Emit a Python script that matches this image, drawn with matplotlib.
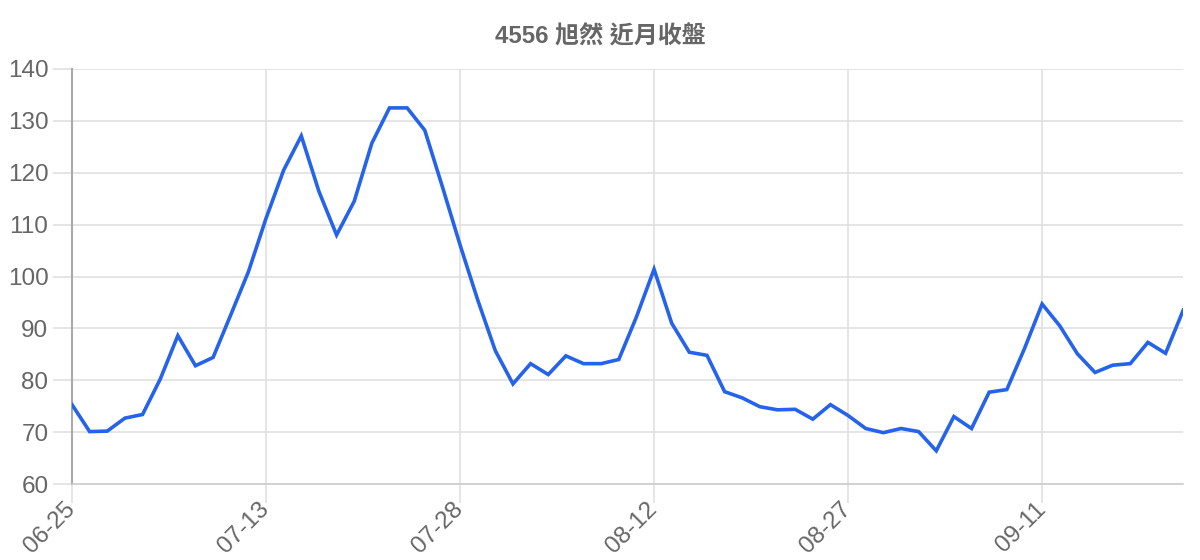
import matplotlib
matplotlib.use("Agg")
import matplotlib.pyplot as plt

plt.rcParams['font.family'] = ['Liberation Sans', 'Noto Sans CJK TC', 'DejaVu Sans']

title = "4556 旭然 近月收盤"

dates = [
    "06-25", "06-26", "06-29", "06-30", "07-01", "07-02", "07-03", "07-06", "07-07", "07-08", "07-10",
    "07-13", "07-14", "07-15", "07-16", "07-17", "07-20", "07-21", "07-22", "07-23", "07-24", "07-27",
    "07-28", "07-29", "07-30", "07-31", "08-03", "08-04", "08-05", "08-06", "08-07", "08-10", "08-11",
    "08-12", "08-13", "08-14", "08-17", "08-18", "08-19", "08-20", "08-21", "08-24", "08-25", "08-26",
    "08-27", "08-28", "08-31", "09-01", "09-02", "09-03", "09-04", "09-07", "09-08", "09-09", "09-10",
    "09-11", "09-14", "09-15", "09-16", "09-17", "09-18", "09-21", "09-22", "09-23",
]

close = [
    75.3, 70.1, 70.2, 72.7, 73.4, 80.2, 88.6, 82.8, 84.4, 92.6, 100.9,
    111.2, 120.5, 127.1, 116.4, 108.0, 114.5, 125.7, 132.5, 132.5, 128.2, 117.3,
    106.1, 95.5, 85.7, 79.3, 83.2, 81.1, 84.7, 83.2, 83.2, 84.0, 92.2,
    101.4, 91.0, 85.4, 84.8, 77.8, 76.6, 74.9, 74.3, 74.4, 72.5, 75.3,
    73.2, 70.7, 69.9, 70.7, 70.1, 66.4, 73.0, 70.7, 77.7, 78.2, 86.1,
    94.7, 90.5, 85.1, 81.5, 82.9, 83.2, 87.3, 85.2, 93.5,
]

y_ticks = [60, 70, 80, 90, 100, 110, 120, 130, 140]
tick_step = 11

fig = plt.figure(figsize=(12, 5.6), dpi=100)
ax = fig.add_axes([0.06, 0.1357, 0.926, 0.7411])

x = list(range(len(close)))
ax.plot(x, close, color='#2563eb', linewidth=2.6, solid_joinstyle='miter', zorder=3)

ax.set_xlim(0, len(close) - 1)
ax.set_ylim(y_ticks[0], y_ticks[-1])

xt = list(range(0, len(dates), tick_step))
ax.set_xticks(xt)
ax.set_xticklabels([dates[i] for i in xt], rotation=45, ha='right', va='center',
                   rotation_mode='anchor')
ax.set_yticks(y_ticks)
ax.set_yticklabels([str(v) for v in y_ticks])

ax.grid(True, color='#e0e0e0', linewidth=1.2, zorder=0)
ax.tick_params(axis='both', length=14, width=1.2, color='#e0e0e0',
               labelcolor='#666666', labelsize=17.5)
ax.tick_params(axis='x', pad=2)
ax.tick_params(axis='y', pad=3)

for s in ['top', 'right']:
    ax.spines[s].set_visible(False)
ax.spines['bottom'].set_color('#cccccc')
ax.spines['bottom'].set_linewidth(1.2)
ax.spines['left'].set_color('#aaaaaa')
ax.spines['left'].set_linewidth(1.5)

fig.text(0.5, 0.934, title, ha='center', va='center', fontsize=17.3,
         fontweight='bold', color='#666666')

fig.savefig('out.png', dpi=100)
